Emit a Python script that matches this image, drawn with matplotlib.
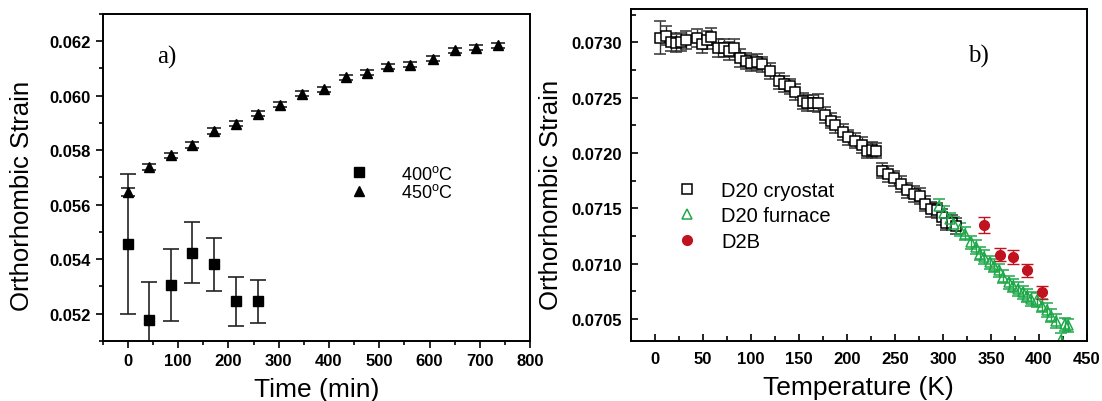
import matplotlib
matplotlib.use('Agg')
import matplotlib.pyplot as plt
from matplotlib.lines import Line2D
from matplotlib.ticker import MultipleLocator

plt.rcParams['font.family'] = ['Liberation Sans', 'DejaVu Sans']
plt.rcParams['mathtext.fontset'] = 'custom'
plt.rcParams['mathtext.rm'] = 'Liberation Sans'

# panel a) strain vs annealing time
t400 = [0, 43, 86, 128, 172, 216, 259]
s400 = [0.05455, 0.05178, 0.05306, 0.05424, 0.05381, 0.05245, 0.05245]
e400 = [0.00257, 0.00138, 0.00133, 0.00113, 0.00098, 0.00090, 0.00080]

t450 = [0, 43, 86, 128, 172, 216, 259, 302, 346, 390, 433, 476, 518, 562, 606, 650, 692, 736]
s450 = [0.05647, 0.05739, 0.05781, 0.05818, 0.05871, 0.05898, 0.05934, 0.05967, 0.06008,
        0.06024, 0.06067, 0.06085, 0.06108, 0.06114, 0.06136, 0.06167, 0.06177, 0.06185]
e450 = [0.00014, 0.00010, 0.00010, 0.00011, 0.00010, 0.00010, 0.00009, 0.00009, 0.00009,
        0.00009, 0.00009, 0.00009, 0.00009, 0.00009, 0.00009, 0.00009, 0.00009, 0.00009]

# panel b) strain vs temperature
cryo_T = [6, 12, 17, 22, 27, 33, 44, 49, 54, 59, 66, 72, 77, 83, 89, 95, 100, 106, 112,
          120, 129, 135, 141, 146, 154, 159, 165, 170, 177, 183, 188, 196, 201, 208, 216,
          221, 226, 230, 237, 243, 249, 256, 263, 270, 276, 281, 288, 294, 299, 303, 309, 314]
cryo_S = [0.07304, 0.07306, 0.07300, 0.07299, 0.07300, 0.07302, 0.07304, 0.07298, 0.07302,
          0.07305, 0.07295, 0.07295, 0.07292, 0.07295, 0.07286, 0.07283, 0.07281, 0.07282,
          0.07280, 0.07274, 0.07265, 0.07262, 0.07260, 0.07255, 0.07247, 0.07245, 0.07245,
          0.07245, 0.07234, 0.07229, 0.07225, 0.07219, 0.07214, 0.07211, 0.07207, 0.07202,
          0.07203, 0.07202, 0.07184, 0.07181, 0.07177, 0.07172, 0.07166, 0.07163, 0.07161,
          0.07154, 0.07149, 0.07148, 0.07142, 0.07137, 0.07137, 0.07134]
cryo_E = [0.00015, 0.00009, 0.00008, 0.00008, 0.00008, 0.00008, 0.00008, 0.00008, 0.00008,
          0.00008, 0.00008, 0.00008, 0.00008, 0.00008, 0.00008, 0.00007, 0.00007, 0.00007,
          0.00007, 0.00007, 0.00007, 0.00007, 0.00007, 0.00007, 0.00007, 0.00007, 0.00007,
          0.00008, 0.00007, 0.00007, 0.00007, 0.00007, 0.00007, 0.00007, 0.00007, 0.00007,
          0.00007, 0.00007, 0.00007, 0.00007, 0.00007, 0.00007, 0.00007, 0.00007, 0.00007,
          0.00007, 0.00007, 0.00007, 0.00007, 0.00007, 0.00007, 0.00007]

furn_T = [296, 301, 307, 312, 318, 323, 329, 334, 339, 343, 349, 353, 358, 363, 369, 373,
          378, 383, 388, 392, 398, 403, 408, 413, 418, 423, 427, 430]
furn_S = [0.07152, 0.07146, 0.07140, 0.07136, 0.07131, 0.07127, 0.07119, 0.07115, 0.07109,
          0.07106, 0.07101, 0.07098, 0.07094, 0.07088, 0.07083, 0.07080, 0.07077, 0.07074,
          0.07071, 0.07068, 0.07067, 0.07062, 0.07058, 0.07053, 0.07048, 0.07031, 0.07045,
          0.07044]
furn_E = [0.00006] * 28

d2b_T = [343, 359, 373, 388, 403]
d2b_S = [0.07135, 0.07108, 0.07106, 0.07094, 0.07074]
d2b_E = [0.00007, 0.00006, 0.00006, 0.00006, 0.00006]

green = '#1fa84a'
red = '#c0121f'

fig = plt.figure(figsize=(11.02, 4.02), dpi=100)
ax1 = fig.add_axes([0.0932, 0.1493, 0.3878, 0.8134])
ax2 = fig.add_axes([0.5723, 0.1493, 0.4141, 0.8259])

# ---- a)
ax1.errorbar(t400, s400, yerr=e400, fmt='s', color='black', ms=6.5, ecolor='#222222',
             elinewidth=1.2, capsize=5.5, capthick=1.2)
ax1.errorbar(t450, s450, yerr=e450, fmt='^', color='black', ms=7.5, ecolor='#222222',
             elinewidth=1.2, capsize=5, capthick=1.2)
ax1.set_xlim(-50, 800)
ax1.set_ylim(0.051, 0.063)
ax1.xaxis.set_major_locator(MultipleLocator(100))
ax1.xaxis.set_minor_locator(MultipleLocator(50))
ax1.yaxis.set_major_locator(MultipleLocator(0.002))
ax1.yaxis.set_minor_locator(MultipleLocator(0.001))
ax1.yaxis.set_major_formatter(plt.FormatStrFormatter('%.3f'))
ax1.tick_params(which='both', direction='out', top=False, right=False, width=1.2)
ax1.tick_params(which='major', length=5, pad=3.5)
ax1.tick_params(which='minor', length=3)
ax1.set_xlabel('Time (min)', fontsize=19, labelpad=6.5)
ax1.set_ylabel('Orthorhombic Strain', fontsize=18.5)
ax1.yaxis.set_label_coords(-0.160, 0.446)
ax1.text(0.127, 0.87, 'a)', transform=ax1.transAxes, fontsize=18,
         family=['Liberation Serif', 'DejaVu Serif'], va='center')
h1 = [Line2D([], [], ls='none', marker='s', color='black', ms=6.5),
      Line2D([], [], ls='none', marker='^', color='black', ms=7.5)]
ax1.legend(h1, [r'400$^{\rm o}$C', r'450$^{\rm o}$C'], loc='center left',
           bbox_to_anchor=(0.579, 0.483), frameon=False, fontsize=13,
           handlelength=1, handletextpad=1.83, labelspacing=0.05,
           borderpad=0, borderaxespad=0)

# ---- b)
ax2.errorbar(cryo_T, cryo_S, yerr=cryo_E, fmt='s', mfc='white', mec='black', mew=1.1,
             ms=7, ecolor='#333333', elinewidth=1.0, capsize=4.5, capthick=1.0)
ax2.errorbar(furn_T, furn_S, yerr=furn_E, fmt='^', mfc='none', mec=green, mew=1.1,
             ms=7.5, ecolor=green, elinewidth=1.0, capsize=4.5, capthick=1.0)
ax2.errorbar(d2b_T, d2b_S, yerr=d2b_E, fmt='o', color=red, ms=7, ecolor=red,
             elinewidth=1.0, capsize=4.5, capthick=1.0)
ax2.set_xlim(-25, 450)
ax2.set_ylim(0.0703, 0.0733)
ax2.xaxis.set_major_locator(MultipleLocator(50))
ax2.xaxis.set_minor_locator(MultipleLocator(25))
ax2.yaxis.set_major_locator(MultipleLocator(0.0005))
ax2.yaxis.set_minor_locator(MultipleLocator(0.00025))
ax2.yaxis.set_major_formatter(plt.FormatStrFormatter('%.4f'))
ax2.tick_params(which='both', direction='in', top=False, right=False, width=1.2)
ax2.tick_params(which='major', length=5)
ax2.tick_params(axis='x', which='major', pad=7.5)
ax2.tick_params(axis='y', which='major', pad=6)
ax2.tick_params(which='minor', length=3.5)
ax2.set_xlabel('Temperature (K)', fontsize=19, labelpad=6.5)
ax2.set_ylabel('Orthorhombic Strain', fontsize=18.5)
ax2.yaxis.set_label_coords(-0.148, 0.443)
ax2.text(0.740, 0.86, 'b)', transform=ax2.transAxes, fontsize=18,
         family=['Liberation Serif', 'DejaVu Serif'], va='center')
h2 = [Line2D([], [], ls='none', marker='s', mfc='white', mec='black', mew=1.1, ms=7),
      Line2D([], [], ls='none', marker='^', mfc='none', mec=green, mew=1.1, ms=7.5),
      Line2D([], [], ls='none', marker='o', color=red, ms=7)]
ax2.legend(h2, ['D20 cryostat', 'D20 furnace', 'D2B'], loc='center left',
           bbox_to_anchor=(0.1015, 0.377), frameon=False, fontsize=14.5,
           handlelength=1, handletextpad=1.2, labelspacing=0.32,
           borderpad=0, borderaxespad=0)

for ax in (ax1, ax2):
    for sp in ax.spines.values():
        sp.set_linewidth(1.4)
    for lab in ax.get_xticklabels() + ax.get_yticklabels():
        lab.set_fontweight('bold')
        lab.set_fontsize(12)

fig.savefig('out.png', dpi=100)
